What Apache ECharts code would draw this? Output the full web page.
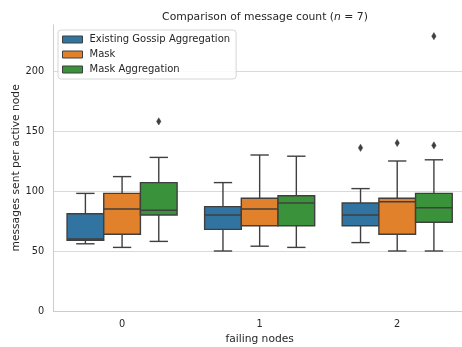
<!DOCTYPE html>
<html>
<head>
<meta charset="utf-8">
<script src="https://cdn.jsdelivr.net/npm/echarts@6/dist/echarts.min.js"></script>
<style>html,body{margin:0;padding:0;background:#fff}#c{width:462px;height:347px}</style>
</head>
<body>
<div id="c"></div>
<script>
// categories (failing nodes)
const categories = ['0', '1', '2'];
const seriesNames = ['Existing Gossip Aggregation', 'Mask', 'Mask Aggregation'];
const yTicks = [0, 50, 100, 150, 200];
// box stats per category: [lower whisker, Q1, median, Q3, upper whisker]
const gossipBoxes = [[56, 59, 60, 81, 98], [50, 68, 80, 87, 107], [57, 71, 80, 90, 102]];
const maskBoxes = [[53, 64, 85, 98, 112], [54, 71, 85, 94, 130], [50, 64, 91, 94, 125]];
const maskAggBoxes = [[58, 80, 84, 107, 128], [53, 71, 90, 96, 129], [50, 74, 86, 98, 126]];
// outliers: [category index, value]
const gossipOutliers = [[2, 136]];
const maskOutliers = [[2, 140]];
const maskAggOutliers = [[0, 158], [2, 138], [2, 229]];

const colors = ['#3274a1', '#e1812c', '#3a923a'];
const edge = '#3f3f3f';
const FONT = 'DejaVu Sans';
const TXT = '#262626';

function boxRender(k) {
  return function (params, api) {
    const cat = api.value(0);
    const band = api.size([1, 0])[0];
    const w = band * 0.8 / 3;
    const cx = api.coord([cat, 0])[0] + (k - 1) * w;
    const ys = [1, 2, 3, 4, 5].map(i => api.coord([cat, api.value(i)])[1]);
    const [yMin, yQ1, yMed, yQ3, yMax] = ys;
    const cap = w / 4;
    const ls = { stroke: edge, lineWidth: 1.4 };
    return {
      type: 'group',
      children: [
        { type: 'line', shape: { x1: cx, y1: yQ1, x2: cx, y2: yMin }, style: ls },
        { type: 'line', shape: { x1: cx, y1: yQ3, x2: cx, y2: yMax }, style: ls },
        { type: 'line', shape: { x1: cx - cap, y1: yMin, x2: cx + cap, y2: yMin }, style: ls },
        { type: 'line', shape: { x1: cx - cap, y1: yMax, x2: cx + cap, y2: yMax }, style: ls },
        { type: 'rect', shape: { x: cx - w / 2, y: yQ3, width: w, height: yQ1 - yQ3 },
          style: { fill: colors[k], stroke: edge, lineWidth: 1.4 } },
        { type: 'line', shape: { x1: cx - w / 2, y1: yMed, x2: cx + w / 2, y2: yMed }, style: ls }
      ]
    };
  };
}
function outlierRender(k) {
  return function (params, api) {
    const cat = api.value(0);
    const band = api.size([1, 0])[0];
    const w = band * 0.8 / 3;
    const p = api.coord([cat, api.value(1)]);
    const cx = p[0] + (k - 1) * w, cy = p[1];
    return {
      type: 'polygon',
      shape: { points: [[cx, cy - 3.6], [cx + 2.2, cy], [cx, cy + 3.6], [cx - 2.2, cy]] },
      style: { fill: edge, stroke: edge, lineWidth: 0.5 }
    };
  };
}

const boxSets = [gossipBoxes, maskBoxes, maskAggBoxes];
const outSets = [gossipOutliers, maskOutliers, maskAggOutliers];
const series = [];
boxSets.forEach((b, k) => {
  series.push({
    name: seriesNames[k], type: 'custom', renderItem: boxRender(k),
    itemStyle: { color: colors[k] },
    encode: { x: 0, y: [1, 2, 3, 4, 5] },
    data: b.map((s, i) => [i].concat(s))
  });
});
outSets.forEach((o, k) => {
  series.push({
    name: seriesNames[k], type: 'custom', renderItem: outlierRender(k),
    itemStyle: { color: colors[k] },
    encode: { x: 0, y: 1 },
    data: o
  });
});

const chart = echarts.init(document.getElementById('c'), null, { renderer: 'canvas' });
chart.setOption({
  animation: false,
  backgroundColor: '#fff',
  title: {
    text: '{a|Comparison of message count (}{i|n}{a| = 7)}',
    left: 260, top: 7, textAlign: 'center',
    textStyle: {
      fontWeight: 'normal',
      rich: {
        a: { fontFamily: FONT, fontSize: 10.8, color: TXT, fontWeight: 'normal' },
        i: { fontFamily: FONT, fontSize: 10.8, color: TXT, fontStyle: 'italic', fontWeight: 'normal' }
      }
    }
  },
  legend: {
    data: seriesNames,
    orient: 'vertical', left: 58, top: 30,
    padding: [3, 6, 3, 4], itemGap: 2,
    itemWidth: 20, itemHeight: 7, icon: 'rect',
    itemStyle: { borderColor: edge, borderWidth: 1 },
    backgroundColor: 'rgba(255,255,255,0.85)', borderColor: '#d6d6d6', borderWidth: 1, borderRadius: 3,
    textStyle: { fontFamily: FONT, fontSize: 10, color: TXT, lineHeight: 13, padding: [0, 0, 0, 2] }
  },
  grid: { left: 53.3, right: -4, top: 24.8, bottom: 36, containLabel: false, outerBoundsMode: 'none' },
  xAxis: {
    type: 'category', data: categories,
    name: 'failing nodes', nameLocation: 'middle', nameGap: 23, nameMoveOverlap: false,
    nameTextStyle: { fontFamily: FONT, fontSize: 10.7, color: TXT },
    axisLine: { lineStyle: { color: '#cccccc', width: 1 } },
    axisTick: { show: false },
    axisLabel: { fontFamily: FONT, fontSize: 9.8, color: TXT, margin: 8 },
    splitLine: { show: false }
  },
  yAxis: {
    type: 'value', min: 0, max: 238.5, interval: 50,
    name: 'messages sent per active node', nameLocation: 'middle', nameGap: 32, nameMoveOverlap: false,
    nameTextStyle: { fontFamily: FONT, fontSize: 10.7, color: TXT },
    axisLine: { show: true, lineStyle: { color: '#cccccc', width: 1 } },
    axisTick: { show: false },
    axisLabel: { fontFamily: FONT, fontSize: 9.8, color: TXT, margin: 9, showMaxLabel: false,
      formatter: v => (yTicks.indexOf(v) >= 0 ? String(v) : '') },
    splitLine: { show: true, showMaxLine: false, lineStyle: { color: '#d9d9d9', width: 1 } }
  },
  series: series
});
</script>
</body>
</html>
